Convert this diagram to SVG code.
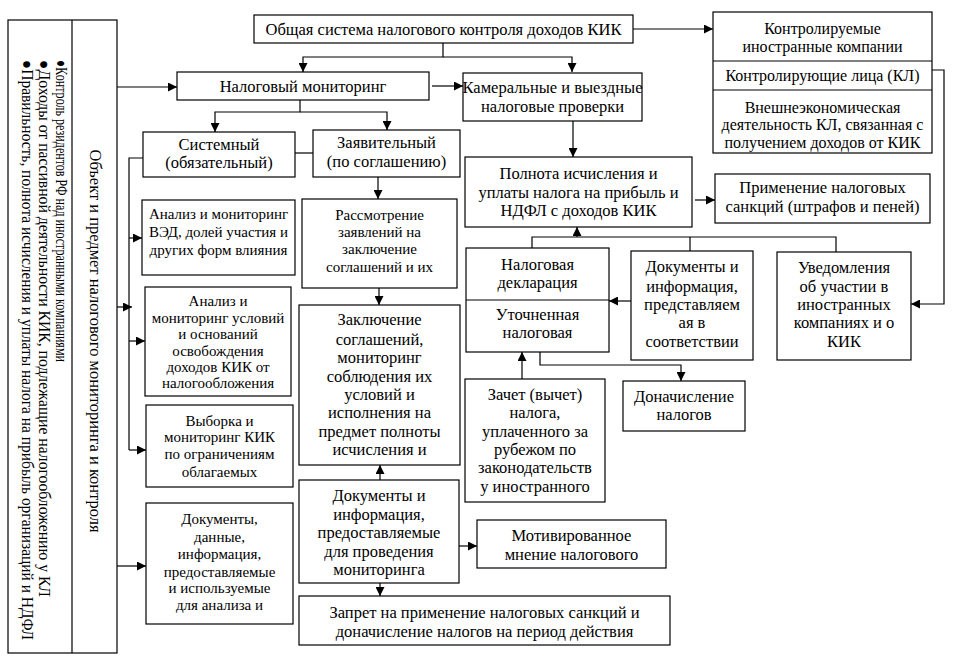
<svg xmlns="http://www.w3.org/2000/svg" width="956" height="672" viewBox="0 0 956 672">
<defs>
<style>
.b{fill:#fff;stroke:#000;stroke-width:1.2}
.ln{fill:none;stroke:#000;stroke-width:1.2}
.a{fill:none;stroke:#000;stroke-width:1.2;marker-end:url(#ah)}
text{font-family:"Liberation Serif","Times New Roman",serif;font-size:16.5px;fill:#000}
.c{text-anchor:middle}
.s15{font-size:15px}
.s16{font-size:16px}
</style>
<marker id="ah" viewBox="0 0 10 10" refX="10" refY="5" markerWidth="9" markerHeight="9" markerUnits="userSpaceOnUse" orient="auto">
<path d="M0,0 L10,5 L0,10 z" fill="#000"/>
</marker>
</defs>
<rect width="956" height="672" fill="#fff"/>

<g id="left-panel">
<rect class="b" x="8" y="20" width="109" height="633"/>
<line class="ln" x1="72" y1="20" x2="72" y2="653"/>
<text class="c" transform="translate(90,341) rotate(90)" textLength="383" lengthAdjust="spacingAndGlyphs">Объект и предмет налогового мониторинга и контроля</text>
<text font-size="14" transform="translate(56,60) rotate(90)" textLength="302" lengthAdjust="spacingAndGlyphs">●Контроль резидентов РФ над иностранными компаниями</text>
<text font-size="14" transform="translate(38.5,60) rotate(90)" textLength="537" lengthAdjust="spacingAndGlyphs">●Доходы от пассивной деятельности КИК, подлежащие налогообложению у КЛ</text>
<text font-size="14" transform="translate(22,60) rotate(90)" textLength="580" lengthAdjust="spacingAndGlyphs">●Правильность, полнота исчисления и уплаты налога на прибыль организаций и НДФЛ</text>
</g>

<g id="connectors">
<path class="a" d="M443,43 V57 H303 V72"/>
<path class="a" d="M443,57 H572 V72"/>
<path class="a" d="M633,29 H713"/>
<path class="a" d="M432,86 H463"/>
<path class="a" d="M300,100 V112 H215 V132"/>
<path class="a" d="M300,112 H387 V130"/>
<path class="ln" d="M295,153 H313"/>
<path class="a" d="M378,177 V199"/>
<path class="a" d="M379,288 V305"/>
<path class="a" d="M380,480 V465"/>
<path class="a" d="M459,546 H477"/>
<path class="a" d="M380,583 V596"/>
<path class="a" d="M117,87 H177"/>
<path class="a" d="M117,307 H132"/>
<path class="a" d="M117,566 H146"/>
<path class="ln" d="M143,158 H129 V450"/>
<path class="a" d="M129,238 H142"/>
<path class="a" d="M129,341 H145"/>
<path class="a" d="M129,450 H146"/>
<path class="a" d="M573,121 V157"/>
<path class="a" d="M695,200 H715"/>
<path class="ln" d="M532,248 V237 H836 V252"/>
<path class="ln" d="M690,237 V251"/>
<path class="a" d="M577,237 V227"/>
<path class="a" d="M631,301 H609"/>
<path class="a" d="M932,70 H944 V304 H911"/>
<path class="a" d="M522,379 V352"/>
<path class="a" d="M540,352 V365 H681 V381"/>
</g>

<g id="n-general">
<rect class="b" x="254" y="15" width="379" height="28"/>
<text class="c" x="443.5" y="34.5">Общая система налогового контроля доходов КИК</text>
</g>

<g id="n-cfc">
<rect class="b" x="713" y="12" width="219" height="141"/>
<line class="ln" x1="713" y1="61" x2="932" y2="61"/>
<line class="ln" x1="713" y1="90" x2="932" y2="90"/>
<text class="c s16"><tspan x="822.5" y="34">Контролируемые</tspan><tspan x="822.5" y="52">иностранные компании</tspan><tspan x="822.5" y="81">Контролирующие лица (КЛ)</tspan><tspan x="822.5" y="113">Внешнеэкономическая</tspan><tspan x="822.5" y="130">деятельность КЛ, связанная с</tspan><tspan x="822.5" y="148">получением доходов от КИК</tspan></text>
</g>

<g id="n-monitoring">
<rect class="b" x="177" y="72" width="252" height="28"/>
<text class="c" x="303" y="91.5">Налоговый мониторинг</text>
</g>

<g id="n-audits">
<rect class="b" x="463" y="73" width="179" height="48"/>
<text class="c"><tspan x="552.5" y="93">Камеральные и выездные</tspan><tspan x="552.5" y="112">налоговые проверки</tspan></text>
</g>

<g id="n-system">
<rect class="b" x="143" y="132" width="152" height="45"/>
<text class="c"><tspan x="219" y="150">Системный</tspan><tspan x="219" y="168">(обязательный)</tspan></text>
</g>

<g id="n-declarative">
<rect class="b" x="313" y="130" width="147" height="47"/>
<text class="c"><tspan x="386.5" y="148">Заявительный</tspan><tspan x="386.5" y="167">(по соглашению)</tspan></text>
</g>

<g id="n-ved">
<rect class="b" x="142" y="200" width="153" height="75"/>
<text class="c s15"><tspan x="218.5" y="219">Анализ и мониторинг</tspan><tspan x="218.5" y="237">ВЭД, долей участия и</tspan><tspan x="218.5" y="255">других форм влияния</tspan></text>
</g>

<g id="n-review">
<rect class="b" x="302" y="199" width="155" height="89"/>
<text class="c s15"><tspan x="379.5" y="220">Рассмотрение</tspan><tspan x="379.5" y="237">заявлений на</tspan><tspan x="379.5" y="254">заключение</tspan><tspan x="379.5" y="272">соглашений и их</tspan></text>
</g>

<g id="n-exempt">
<rect class="b" x="145" y="287" width="146" height="109"/>
<text class="c s15"><tspan x="218" y="306">Анализ и</tspan><tspan x="218" y="323">мониторинг условий</tspan><tspan x="218" y="339">и оснований</tspan><tspan x="218" y="356">освобождения</tspan><tspan x="218" y="372">доходов КИК от</tspan><tspan x="218" y="388">налогообложения</tspan></text>
</g>

<g id="n-sample">
<rect class="b" x="146" y="405" width="147" height="82"/>
<text class="c s15"><tspan x="219.5" y="426">Выборка и</tspan><tspan x="219.5" y="442">мониторинг КИК</tspan><tspan x="219.5" y="459">по ограничениям</tspan><tspan x="219.5" y="477">облагаемых</tspan></text>
</g>

<g id="n-docs-data">
<rect class="b" x="146" y="503" width="147" height="121"/>
<text class="c s15"><tspan x="219.5" y="524">Документы,</tspan><tspan x="219.5" y="542">данные,</tspan><tspan x="219.5" y="559">информация,</tspan><tspan x="219.5" y="577">предоставляемые</tspan><tspan x="219.5" y="593">и используемые</tspan><tspan x="219.5" y="610">для анализа и</tspan></text>
</g>

<g id="n-agreement">
<rect class="b" x="299" y="305" width="161" height="160"/>
<text class="c"><tspan x="379.5" y="325">Заключение</tspan><tspan x="379.5" y="345">соглашений,</tspan><tspan x="379.5" y="363">мониторинг</tspan><tspan x="379.5" y="382">соблюдения их</tspan><tspan x="379.5" y="400">условий и</tspan><tspan x="379.5" y="418">исполнения на</tspan><tspan x="379.5" y="437">предмет полноты</tspan><tspan x="379.5" y="455">исчисления и</tspan></text>
</g>

<g id="n-docs-mon">
<rect class="b" x="299" y="480" width="160" height="103"/>
<text class="c"><tspan x="379" y="501">Документы и</tspan><tspan x="379" y="519.5">информация,</tspan><tspan x="379" y="538">предоставляемые</tspan><tspan x="379" y="556.5">для проведения</tspan><tspan x="379" y="575">мониторинга</tspan></text>
</g>

<g id="n-opinion">
<rect class="b" x="477" y="520" width="189" height="48"/>
<text class="c"><tspan x="571.5" y="541">Мотивированное</tspan><tspan x="571.5" y="560">мнение налогового</tspan></text>
</g>

<g id="n-ban">
<rect class="b" x="299" y="596" width="371" height="49"/>
<text class="c"><tspan x="484.5" y="618">Запрет на применение налоговых санкций и</tspan><tspan x="484.5" y="637">доначисление налогов на период действия</tspan></text>
</g>

<g id="n-completeness">
<rect class="b" x="465" y="157" width="227" height="70"/>
<text class="c"><tspan x="578.5" y="179">Полнота исчисления и</tspan><tspan x="578.5" y="198">уплаты налога на прибыль и</tspan><tspan x="578.5" y="216">НДФЛ с доходов КИК</tspan></text>
</g>

<g id="n-sanctions">
<rect class="b" x="715" y="174" width="215" height="49"/>
<text class="c"><tspan x="822.5" y="193">Применение налоговых</tspan><tspan x="822.5" y="212">санкций (штрафов и пеней)</tspan></text>
</g>

<g id="n-declaration">
<rect class="b" x="466" y="248" width="143" height="104"/>
<line class="ln" x1="466" y1="300" x2="609" y2="300"/>
<text class="c"><tspan x="537.5" y="270">Налоговая</tspan><tspan x="537.5" y="288">декларация</tspan><tspan x="537.5" y="320">Уточненная</tspan><tspan x="537.5" y="338">налоговая</tspan></text>
</g>

<g id="n-docs-info">
<rect class="b" x="631" y="251" width="122" height="109"/>
<text class="c"><tspan x="692" y="272">Документы и</tspan><tspan x="692" y="292">информация,</tspan><tspan x="692" y="310">представляем</tspan><tspan x="692" y="328">ая в</tspan><tspan x="692" y="347">соответствии</tspan></text>
</g>

<g id="n-notices">
<rect class="b" x="777" y="252" width="134" height="108"/>
<text class="c"><tspan x="844" y="273">Уведомления</tspan><tspan x="844" y="292">об участии в</tspan><tspan x="844" y="310">иностранных</tspan><tspan x="844" y="328">компаниях и о</tspan><tspan x="844" y="347">КИК</tspan></text>
</g>

<g id="n-credit">
<rect class="b" x="465" y="379" width="140" height="123"/>
<text class="c"><tspan x="535" y="400">Зачет (вычет)</tspan><tspan x="535" y="418">налога,</tspan><tspan x="535" y="437">уплаченного за</tspan><tspan x="535" y="455">рубежом по</tspan><tspan x="535" y="473">законодательств</tspan><tspan x="535" y="492">у иностранного</tspan></text>
</g>

<g id="n-additional">
<rect class="b" x="623" y="381" width="122" height="50"/>
<text class="c"><tspan x="684" y="402">Доначисление</tspan><tspan x="684" y="420">налогов</tspan></text>
</g>
</svg>
